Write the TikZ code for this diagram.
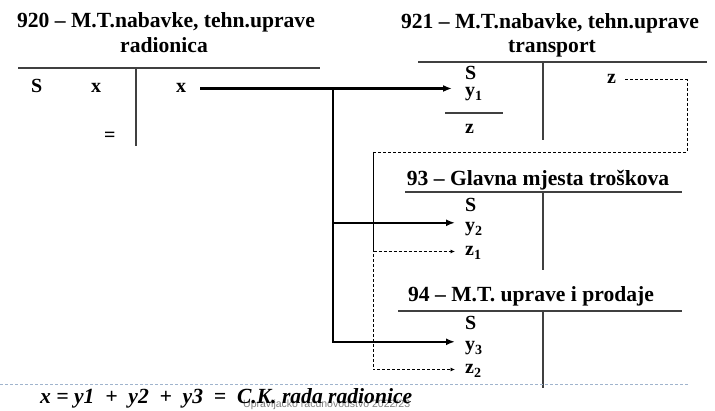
\documentclass[tikz,border=0pt]{standalone}
\usepackage{fontspec}
\setmainfont{Liberation Serif}
\setsansfont{Liberation Sans}
\usetikzlibrary{calc}
\usetikzlibrary{arrows.meta}
\definecolor{divider}{RGB}{160,180,205}

\begin{document}
\begin{tikzpicture}[x=1pt,y=-1pt]
\tikzset{title/.style={font=\fontsize{21.6}{24}\selectfont\bfseries, inner sep=0pt, anchor=base}}
\tikzset{entry/.style={font=\fontsize{20}{22}\selectfont\bfseries, inner sep=0pt, text height=9pt, text depth=0pt, anchor=base west}}
\tikzset{tline/.style={line width=1.1pt, black!75}}
\tikzset{flow/.style={line width=2.4pt, -{Latex[length=9pt,width=7pt]}}}
\tikzset{dflow/.style={line width=0.8pt, dash pattern=on 3pt off 2pt, -{Latex[length=4.5pt,width=4pt]}}}
\useasboundingbox (0,0) rectangle (715,411);

% 920
\node[title] (t920) at (166,28) {920 – M.T.nabavke, tehn.uprave};
\node[title] (t920b) at (164,53) {radionica};
\draw[tline] (18,68) -- (320,68);
\draw[tline] (136,68) -- (136,146);
\node[entry] (s920) at (31,93) {S};
\node[entry] (xd) at (91,93) {x};
\node[entry] (xc) at (176,93) {x};
\node[entry] (eq) at (104,142) {=};

% 921
\node[title] (t921) at (550,29) {921 – M.T.nabavke, tehn.uprave};
\node[title] (t921b) at (552,53) {transport};
\draw[tline] (418,62) -- (707,62);
\draw[tline] (543,62) -- (543,140);
\node[entry] (s921) at (465,80) {S};
\node[entry] (y1) at (465,97) {y\textsubscript{1}};
\draw[tline] (445,113) -- (503,113);
\node[entry] (z921) at (465,134) {z};
\node[entry] (zr) at (607,84) {z};

% 93
\node[title] (t93) at (538,186) {93 – Glavna mjesta troškova};
\draw[tline] (405,192) -- (682,192);
\draw[tline] (543,192) -- (543,270);
\node[entry] (s93) at (465,212) {S};
\node[entry] (y2) at (465,232) {y\textsubscript{2}};
\node[entry] (z1) at (465,256) {z\textsubscript{1}};

% 94
\node[title] (t94) at (531,302) {94 – M.T. uprave i prodaje};
\draw[tline] (398,311) -- (682,311);
\draw[tline] (543,311) -- (543,388);
\node[entry] (s94) at (465,330) {S};
\node[entry] (y3) at (465,351) {y\textsubscript{3}};
\node[entry] (z2) at (465,374) {z\textsubscript{2}};

% raspored
\coordinate (split) at (333,87.5);
\draw[flow] ([xshift=14pt]xc.east) -- ([xshift=-13pt]xc.east -| y1.west);
\draw[flow] (split) |- ([xshift=-10pt]y2.north west);
\draw[flow] (split) |- ([xshift=-10pt]y3.north west);

\coordinate (dA) at (687,152);
\coordinate (dB) at (373,152);
\draw[dflow] ([xshift=9pt]zr.east) -| (dA) -- (dB) |- ([xshift=-10pt]z2.west);
\draw[dflow] (dB) |- ([xshift=-10pt]z1.west);

\draw[line width=0.8pt, divider, dash pattern=on 3pt off 2pt] (0,384) -- (688,384);
\node[font=\sffamily\fontsize{10.5}{12}\selectfont, text=gray, anchor=base west, inner sep=0pt] (footer) at (243,408) {Upravljačko računovodstvo 2022/23};
\node[font=\fontsize{21.6}{24}\selectfont\bfseries\itshape, anchor=base west, inner sep=0pt] (sum) at (40,404) {x = y1 \ + \ y2 \ + \ y3 \ = \ C.K. rada radionice};
\end{tikzpicture}
\end{document}
